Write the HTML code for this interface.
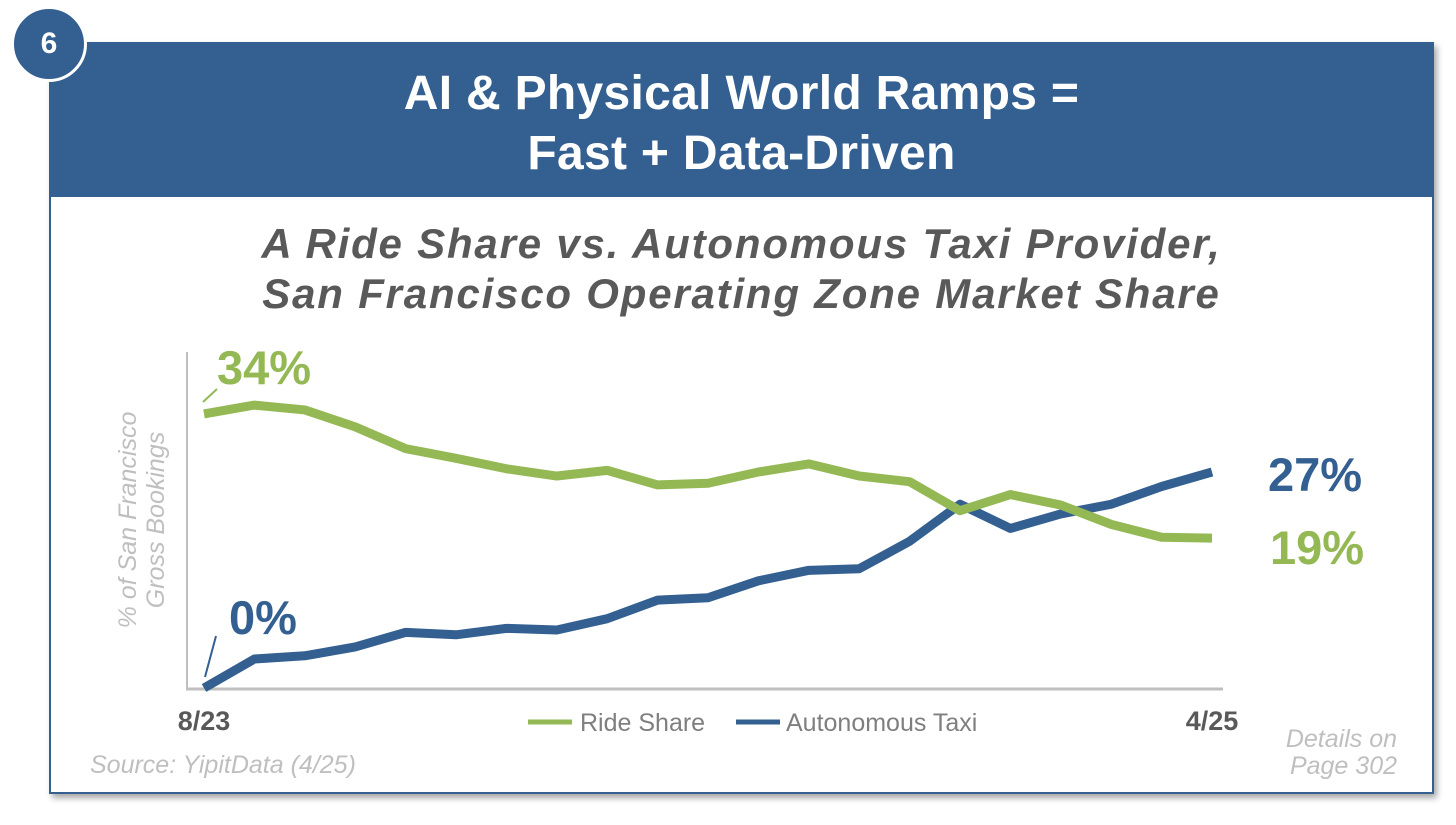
<!DOCTYPE html>
<html><head><meta charset="utf-8"><style>
body{margin:0;width:1456px;height:825px;background:#fff;position:relative;overflow:hidden;font-family:"Liberation Sans",Arial,sans-serif}
.abs{position:absolute}
</style></head><body>
<div class="abs" style="left:49px;top:42px;width:1385px;height:752px;border:2px solid #345f91;box-sizing:border-box;box-shadow:3px 4px 6px rgba(0,0,0,0.35);background:#fff"></div>
<div class="abs" style="left:49px;top:42px;width:1385px;height:155px;background:#345f91"></div>
<div class="abs" style="left:11px;top:6px;width:76px;height:76px;border-radius:50%;background:#345f91;border:3px solid #fff;box-sizing:border-box;color:#fff;font-weight:bold;font-size:30px;text-align:center;line-height:70px">6</div>
<div class="abs" style="left:49px;top:64px;width:1385px;text-align:center;color:#fff;font-weight:bold;font-size:48px;line-height:60px;letter-spacing:0.3px">AI &amp; Physical World Ramps =<br>Fast + Data-Driven</div>
<div class="abs" style="left:49px;top:219px;width:1385px;text-align:center;color:#595959;font-weight:bold;font-style:italic;font-size:42px;line-height:50px;letter-spacing:1.8px">A Ride Share vs. Autonomous Taxi Provider,<br>San Francisco Operating Zone Market Share</div>
<svg class="abs" style="left:0;top:0" width="1456" height="825" id="chart">
<line x1="187" y1="352" x2="187" y2="690" stroke="#bfbfbf" stroke-width="2"/>
<line x1="186" y1="689" x2="1223" y2="689" stroke="#bfbfbf" stroke-width="3"/>
<text x="0" y="0" transform="translate(136,520) rotate(-90)" text-anchor="middle" font-size="25" font-style="italic" fill="#bfbfbf"><tspan x="0" dy="0">% of San Francisco</tspan><tspan x="0" dy="28">Gross Bookings</tspan></text>
<text x="204" y="730" text-anchor="middle" font-size="27" font-weight="bold" fill="#595959">8/23</text>
<text x="1212" y="730" text-anchor="middle" font-size="27" font-weight="bold" fill="#595959">4/25</text>
<line x1="528" y1="722" x2="572" y2="722" stroke="#94b954" stroke-width="5"/>
<text x="580" y="731" font-size="25" fill="#7f7f7f">Ride Share</text>
<line x1="736" y1="722" x2="780" y2="722" stroke="#345f91" stroke-width="5"/>
<text x="786" y="731" font-size="25" fill="#7f7f7f">Autonomous Taxi</text>
<text x="264" y="384" text-anchor="middle" font-size="47" font-weight="bold" fill="#94b954">34%</text>
<line x1="203" y1="402" x2="217" y2="389" stroke="#94b954" stroke-width="2"/>
<text x="263" y="634" text-anchor="middle" font-size="47" font-weight="bold" fill="#345f91">0%</text>
<line x1="205" y1="677" x2="216" y2="636" stroke="#345f91" stroke-width="2"/>
<text x="1315" y="491" text-anchor="middle" font-size="47" font-weight="bold" fill="#345f91">27%</text>
<text x="1317" y="564" text-anchor="middle" font-size="47" font-weight="bold" fill="#94b954">19%</text>
<text x="90" y="773" font-size="25" font-style="italic" fill="#bfbfbf">Source: YipitData (4/25)</text>
<text x="1397" y="747" text-anchor="end" font-size="25" font-style="italic" fill="#bfbfbf"><tspan x="1397">Details on</tspan><tspan x="1397" dy="27">Page 302</tspan></text>
</svg>
<script>
const rideShare=[34.0,35.1,34.5,32.4,29.7,28.5,27.2,26.3,27.0,25.2,25.4,26.8,27.8,26.3,25.6,22.0,24.0,22.7,20.3,18.7,18.6];
const autoTaxi=[0,3.6,4.0,5.1,6.9,6.6,7.4,7.2,8.6,10.9,11.2,13.3,14.6,14.8,18.2,22.8,19.8,21.6,22.8,25.0,26.8];
const n=rideShare.length;
const xs=i=>204+i*(1212-204)/(n-1);
const ys=v=>688-v*8.06;
const svg=document.getElementById('chart');
function line(arr,color,name){
  const p=document.createElementNS('http://www.w3.org/2000/svg','polyline');
  p.setAttribute('points',arr.map((v,i)=>xs(i)+','+ys(v)).join(' '));
  p.setAttribute('fill','none');p.setAttribute('stroke',color);
  p.setAttribute('stroke-width','9');p.setAttribute('stroke-linejoin','round');
  
  
  svg.appendChild(p);
}
line(autoTaxi,'#345f91','autonomous-taxi-line');
line(rideShare,'#94b954','ride-share-line');
</script>
</body></html>
